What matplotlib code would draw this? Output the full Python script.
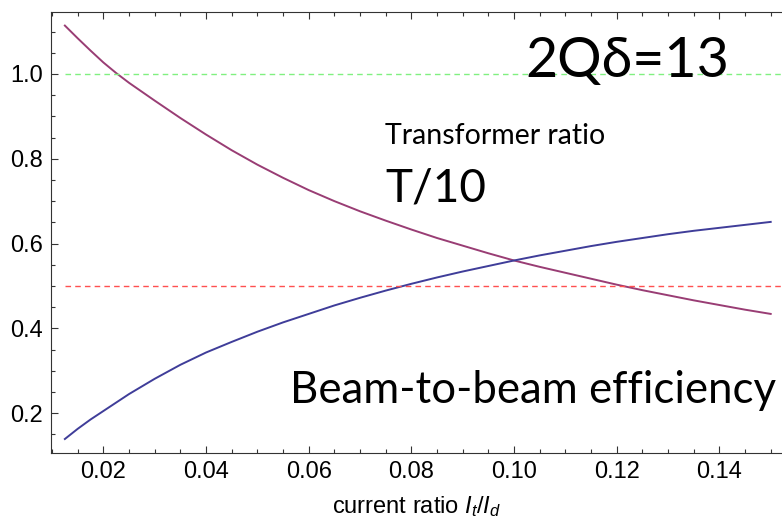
import matplotlib
matplotlib.use("Agg")
import matplotlib.pyplot as plt
from matplotlib.ticker import MultipleLocator

plt.rcParams['font.family'] = ['Liberation Sans', 'DejaVu Sans']
plt.rcParams['mathtext.fontset'] = 'custom'
plt.rcParams['mathtext.rm'] = 'Liberation Sans'
plt.rcParams['mathtext.it'] = 'Liberation Sans:italic'

# values
current_ratio = [0.0125, 0.015, 0.0175, 0.02, 0.0225, 0.025, 0.03, 0.035, 0.04, 0.045,
                 0.05, 0.055, 0.06, 0.065, 0.07, 0.075, 0.08, 0.085, 0.09, 0.095,
                 0.10, 0.105, 0.11, 0.115, 0.12, 0.125, 0.13, 0.135, 0.14, 0.145, 0.15]
transformer_ratio = [1.114, 1.084, 1.055, 1.027, 1.002, 0.979, 0.937, 0.896, 0.857, 0.820,
                     0.786, 0.755, 0.726, 0.700, 0.676, 0.654, 0.633, 0.613, 0.595, 0.577,
                     0.560, 0.545, 0.531, 0.517, 0.503, 0.490, 0.478, 0.466, 0.455, 0.444, 0.434]
efficiency = [0.139, 0.163, 0.185, 0.205, 0.225, 0.245, 0.281, 0.314, 0.343, 0.368,
              0.392, 0.414, 0.434, 0.454, 0.472, 0.489, 0.505, 0.520, 0.534, 0.547,
              0.560, 0.572, 0.583, 0.594, 0.604, 0.613, 0.622, 0.630, 0.637, 0.644, 0.651]
ref_levels = [1.0, 0.5]
ref_colors = ['#80f080', '#ff5050']

W, H = 782, 519
fig = plt.figure(figsize=(W / 100, H / 100), dpi=100)
ax = fig.add_axes([51 / W, (H - 453) / H, (W - 51) / W, (453 - 12) / H])

ax.plot(current_ratio, transformer_ratio, color='#993d74', lw=1.4)
ax.plot(current_ratio, efficiency, color='#3f3d99', lw=1.4)
for lev, c in zip(ref_levels, ref_colors):
    ax.plot([current_ratio[0], 0.1522], [lev, lev], color=c, lw=1.0, ls=(0, (4, 3)))

ax.set_xlim(0.0098, 0.1522)
ax.set_ylim(0.106, 1.146)
ax.xaxis.set_major_locator(MultipleLocator(0.02))
ax.xaxis.set_minor_locator(MultipleLocator(0.005))
ax.yaxis.set_major_locator(MultipleLocator(0.2))
ax.yaxis.set_minor_locator(MultipleLocator(0.05))
ax.xaxis.set_major_formatter(lambda v, p: f"{v:.2f}")
ax.yaxis.set_major_formatter(lambda v, p: f"{v:.1f}")
ax.tick_params(which='both', direction='in', top=True, right=False, width=0.8, color='#333333')
ax.tick_params(which='major', length=5, labelsize=17, pad=6)
ax.tick_params(which='minor', length=3)
ax.spines['right'].set_visible(False)
for s in ['left', 'bottom', 'top']:
    ax.spines[s].set_color('#333333')
ax.set_xlabel(r'current ratio $I_t/I_d$', fontsize=17, labelpad=8)

calib = ['Lato', 'DejaVu Sans']
fig.text(525 / W, 1 - 77 / H, '2Qδ=13', fontsize=40, family=calib, va='baseline')
fig.text(385 / W, 1 - 144 / H, 'Transformer ratio', fontsize=20.5, family=calib, va='baseline')
fig.text(385 / W, 1 - 202 / H, 'T/10', fontsize=33, family=calib, va='baseline')
fig.text(290 / W, 1 - 403 / H, 'Beam-to-beam efficiency', fontsize=31.5, family=calib, va='baseline')

fig.savefig('out.png', dpi=100)
